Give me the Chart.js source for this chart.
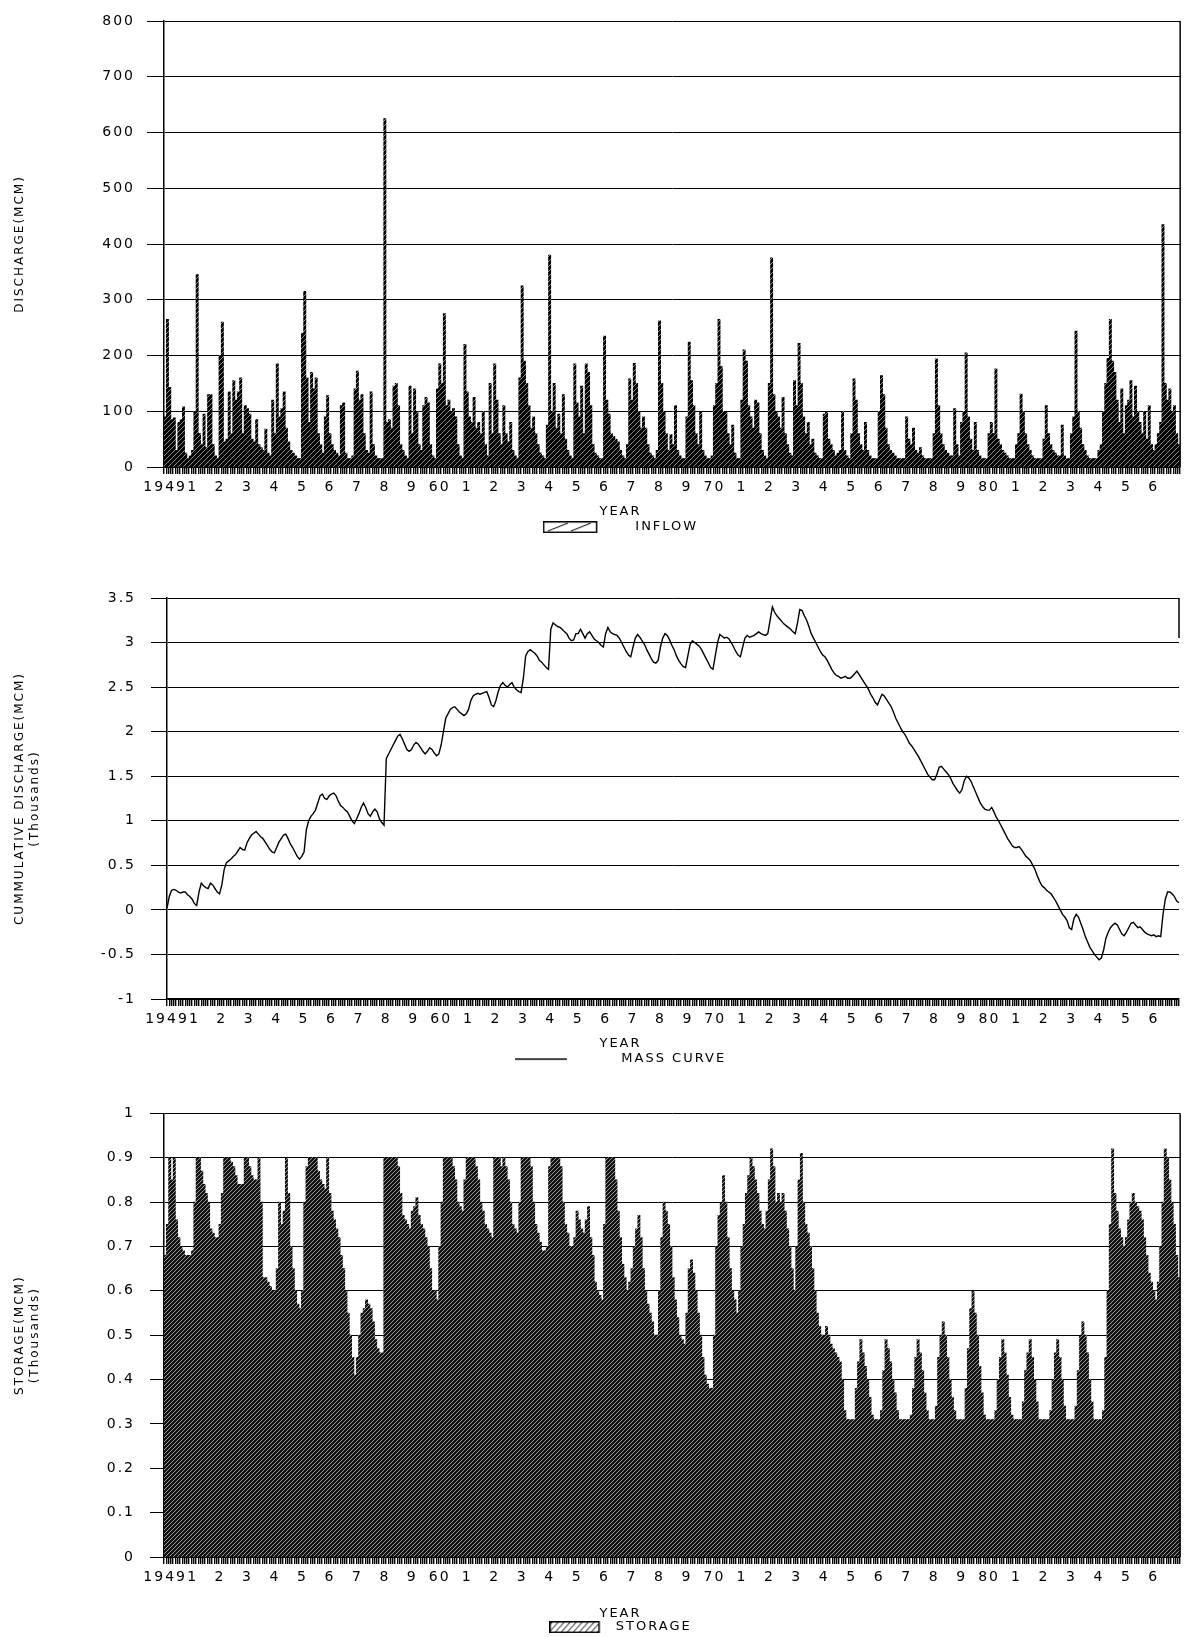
<!DOCTYPE html>
<html>
<head>
<meta charset="utf-8">
<script src="https://cdn.jsdelivr.net/npm/chart.js@4.4.1/dist/chart.umd.min.js"></script>
<style>
  body { margin: 0; background: #fff; width: 1184px; height: 1637px; overflow: hidden; position: relative; }
  .panel { position: absolute; left: 0; }
  .panel canvas { display: block; }
</style>
</head>
<body>
<div class="panel" style="top:0"><canvas id="inflowChart" width="1184" height="550"></canvas></div>
<div class="panel" style="top:550px"><canvas id="massChart" width="1184" height="540"></canvas></div>
<div class="panel" style="top:1090px"><canvas id="storageChart" width="1184" height="560"></canvas></div>
<script>
// year labels under the axis (one per 12 months)
const yearLabels = [
  "1949", "1", "2", "3", "4", "5", "6", "7", "8", "9",
  "60", "1", "2", "3", "4", "5", "6", "7", "8", "9",
  "70", "1", "2", "3", "4", "5", "6", "7", "8", "9",
  "80", "1", "2", "3", "4", "5", "6"
];

// monthly inflow (MCM), one row per year
const inflow = [
  90, 265, 143, 85, 88, 30, 80, 85, 108, 25, 15, 20,
  30, 100, 345, 60, 40, 95, 35, 130, 130, 40, 20, 15,
  200, 260, 45, 50, 135, 60, 155, 120, 135, 160, 60, 110,
  105, 95, 50, 45, 85, 40, 35, 30, 68, 25, 20, 120,
  60, 185, 90, 105, 135, 70, 45, 30, 25, 20, 15, 15,
  240, 315, 160, 80, 170, 140, 160, 60, 40, 25, 90, 128,
  60, 40, 30, 25, 20, 110, 115, 25, 15, 15, 20, 140,
  172, 120, 130, 60, 30, 25, 135, 40, 20, 15, 15, 15,
  625, 80, 85, 70, 145, 150, 110, 40, 30, 20, 15, 145,
  60, 140, 100, 40, 30, 110, 125, 115, 40, 20, 15, 140,
  185, 150, 275, 110, 120, 100, 105, 90, 40, 20, 15, 220,
  135, 90, 80, 125, 70, 80, 60, 100, 40, 20, 150, 60,
  185, 120, 60, 40, 110, 60, 45, 80, 30, 20, 15, 160,
  325, 190, 150, 110, 70, 90, 60, 40, 25, 20, 15, 75,
  380, 100, 150, 70, 95, 60, 130, 50, 30, 20, 15, 185,
  115, 90, 145, 60, 185, 170, 110, 40, 25, 20, 15, 15,
  235, 120, 95, 60, 55, 50, 45, 30, 20, 15, 40, 158,
  120, 186, 150, 100, 70, 90, 70, 40, 25, 20, 15, 30,
  262, 150, 100, 60, 30, 58, 40, 110, 30, 20, 15, 15,
  90, 224, 155, 110, 60, 40, 100, 30, 20, 15, 15, 20,
  110, 150, 265, 180, 100, 100, 60, 40, 75, 25, 15, 15,
  120, 210, 190, 110, 90, 70, 120, 115, 60, 30, 20, 15,
  150, 375, 130, 100, 90, 70, 125, 60, 40, 25, 20, 155,
  110, 222, 150, 90, 60, 80, 40, 50, 25, 20, 15, 15,
  95, 100, 50, 40, 30, 20, 25, 30, 100, 30, 20, 15,
  60, 158, 120, 60, 40, 30, 80, 30, 20, 15, 15, 15,
  100, 164, 130, 70, 40, 30, 25, 20, 15, 15, 15, 15,
  90, 50, 40, 70, 30, 25, 35, 20, 15, 15, 15, 15,
  60, 194, 110, 60, 40, 30, 25, 20, 20, 105, 40, 20,
  80, 100, 205, 90, 50, 30, 80, 30, 20, 15, 15, 15,
  60, 80, 60, 176, 50, 40, 30, 25, 20, 15, 15, 15,
  40, 60, 131, 100, 60, 40, 30, 20, 15, 15, 15, 15,
  50, 110, 60, 40, 30, 25, 20, 20, 75, 20, 15, 15,
  60, 90, 244, 100, 70, 40, 30, 20, 15, 15, 15, 15,
  30, 40, 100, 150, 195, 265, 190, 170, 120, 80, 140, 60,
  110, 120, 155, 90, 145, 100, 80, 60, 100, 50, 110, 40,
  30, 40, 60, 80, 435, 150, 120, 140, 100, 110, 60, 40
];

// cumulative discharge, mass curve (thousand MCM)
const massCurve = [
  0.02, 0.15, 0.22, 0.23, 0.22, 0.2, 0.19, 0.2, 0.2, 0.17, 0.15, 0.12,
  0.07, 0.05, 0.2, 0.3, 0.27, 0.25, 0.24, 0.3, 0.28, 0.24, 0.2, 0.18,
  0.28, 0.45, 0.53, 0.55, 0.57, 0.6, 0.62, 0.66, 0.7, 0.68, 0.67, 0.75,
  0.8, 0.84, 0.86, 0.88, 0.85, 0.82, 0.8, 0.76, 0.72, 0.68, 0.65, 0.64,
  0.7, 0.76, 0.8, 0.84, 0.85, 0.8, 0.74, 0.7, 0.65, 0.6, 0.57, 0.6,
  0.65, 0.9, 1.0, 1.05, 1.08, 1.12, 1.2, 1.28, 1.3, 1.25, 1.24, 1.28,
  1.3, 1.31, 1.28, 1.22, 1.17, 1.15, 1.12, 1.1, 1.05, 1.0, 0.97, 1.02,
  1.08, 1.15, 1.2, 1.15, 1.08, 1.05, 1.1, 1.13, 1.1, 1.02, 0.98, 0.95,
  1.7, 1.75, 1.8, 1.85, 1.9, 1.95, 1.97, 1.92, 1.86, 1.8, 1.78, 1.8,
  1.85, 1.88, 1.86, 1.82, 1.78, 1.75, 1.78, 1.82, 1.8, 1.76, 1.73, 1.75,
  1.85, 2.0, 2.15, 2.2, 2.25, 2.27, 2.28, 2.25, 2.22, 2.2, 2.18, 2.2,
  2.25, 2.35, 2.4, 2.42, 2.43, 2.42, 2.43, 2.44, 2.45, 2.38, 2.3, 2.28,
  2.35, 2.45, 2.52, 2.55, 2.52, 2.5, 2.53, 2.55, 2.5, 2.47, 2.45, 2.44,
  2.6, 2.85, 2.9, 2.92, 2.9, 2.88, 2.85, 2.8, 2.78, 2.75, 2.72, 2.7,
  3.15, 3.22, 3.2, 3.18, 3.17, 3.15, 3.12, 3.1, 3.05, 3.02, 3.03, 3.1,
  3.1, 3.15, 3.1, 3.05, 3.1, 3.12, 3.08, 3.04, 3.02, 3.0, 2.97, 2.95,
  3.1, 3.17, 3.12, 3.1, 3.09, 3.08, 3.05, 3.0, 2.95, 2.9, 2.86, 2.84,
  2.95, 3.05, 3.09, 3.06, 3.02, 2.98, 2.92, 2.87, 2.82, 2.78, 2.77, 2.8,
  2.95, 3.05, 3.1, 3.08, 3.03, 2.97, 2.92, 2.85, 2.8, 2.76, 2.73, 2.72,
  2.85, 2.98, 3.02, 3.0, 2.98, 2.96, 2.92, 2.87, 2.82, 2.77, 2.72, 2.7,
  2.85, 3.0, 3.09, 3.07, 3.05, 3.06, 3.04, 3.0, 2.95, 2.9, 2.86, 2.84,
  2.95, 3.05, 3.08, 3.06, 3.07, 3.08, 3.1, 3.12, 3.1, 3.09, 3.08, 3.1,
  3.25, 3.4, 3.34, 3.3, 3.27, 3.24, 3.21, 3.19, 3.17, 3.15, 3.12, 3.1,
  3.22, 3.37, 3.36, 3.3, 3.25, 3.18, 3.1, 3.05, 3.0, 2.95, 2.9, 2.86,
  2.84, 2.8, 2.75, 2.7, 2.66, 2.63, 2.62, 2.6, 2.61, 2.62, 2.6, 2.6,
  2.62, 2.65, 2.68, 2.64, 2.6, 2.56, 2.52, 2.48, 2.42, 2.38, 2.33, 2.3,
  2.36, 2.42, 2.4, 2.36, 2.32, 2.28, 2.22, 2.15, 2.1, 2.05, 2.0, 1.97,
  1.92, 1.87, 1.84, 1.8, 1.76, 1.72, 1.67, 1.62, 1.57, 1.52, 1.49, 1.46,
  1.46, 1.52, 1.6, 1.61, 1.58, 1.55, 1.52, 1.48, 1.42, 1.38, 1.34, 1.31,
  1.35, 1.45, 1.5, 1.48, 1.44, 1.38, 1.32, 1.26, 1.2, 1.16, 1.13, 1.12,
  1.12, 1.15, 1.1, 1.04, 1.0, 0.95, 0.9, 0.85, 0.8, 0.76, 0.72, 0.7,
  0.7, 0.71, 0.68, 0.64, 0.6, 0.58, 0.55, 0.5, 0.45, 0.38, 0.32, 0.27,
  0.25, 0.22, 0.2, 0.18, 0.14, 0.1, 0.05, 0.0, -0.05, -0.08, -0.12, -0.2,
  -0.22, -0.1, -0.05, -0.08, -0.15, -0.22, -0.3, -0.36, -0.42, -0.46, -0.5, -0.53,
  -0.56, -0.54, -0.45, -0.32, -0.25, -0.2, -0.17, -0.15, -0.17, -0.22, -0.27, -0.29,
  -0.25, -0.2, -0.15, -0.14, -0.17, -0.2, -0.19, -0.22, -0.25, -0.27, -0.28, -0.29,
  -0.28, -0.3, -0.29, -0.3, -0.05, 0.12, 0.2, 0.2, 0.18, 0.15, 0.1, 0.08
];

// reservoir storage (thousand MCM)
const storage = [
  0.68, 0.75, 0.9, 0.85, 0.9, 0.76, 0.72, 0.7, 0.69, 0.68, 0.68, 0.68,
  0.69, 0.8, 0.9, 0.9, 0.87, 0.84, 0.82, 0.8, 0.74, 0.73, 0.72, 0.72,
  0.75, 0.82, 0.9, 0.9, 0.9, 0.89, 0.88, 0.86, 0.84, 0.84, 0.84, 0.9,
  0.9, 0.88, 0.86, 0.85, 0.85, 0.9, 0.8, 0.63, 0.63, 0.62, 0.61, 0.6,
  0.6, 0.65, 0.8, 0.75, 0.78, 0.9, 0.82, 0.7, 0.65, 0.6, 0.57, 0.56,
  0.6, 0.8, 0.88, 0.9, 0.9, 0.9, 0.9, 0.87, 0.85, 0.84, 0.83, 0.9,
  0.82, 0.78, 0.76, 0.74, 0.72, 0.68, 0.65, 0.6, 0.55, 0.5, 0.45, 0.41,
  0.45, 0.5, 0.55, 0.56, 0.58, 0.57, 0.56, 0.53, 0.49, 0.47, 0.46, 0.46,
  0.9, 0.9, 0.9, 0.9, 0.9, 0.9, 0.88, 0.82, 0.77, 0.76, 0.75, 0.74,
  0.78, 0.79, 0.81, 0.77, 0.75, 0.74, 0.72, 0.7, 0.65, 0.6, 0.6, 0.58,
  0.7, 0.8, 0.9, 0.9, 0.9, 0.9, 0.88, 0.85, 0.8, 0.79, 0.78, 0.85,
  0.9, 0.9, 0.9, 0.9, 0.88, 0.85, 0.8, 0.78, 0.75, 0.74, 0.73, 0.72,
  0.9, 0.9, 0.9, 0.88, 0.9, 0.88, 0.85, 0.8, 0.75, 0.74, 0.73, 0.8,
  0.9, 0.9, 0.9, 0.9, 0.88, 0.8, 0.75, 0.73, 0.71, 0.69, 0.69, 0.7,
  0.88, 0.9, 0.9, 0.9, 0.9, 0.88, 0.8, 0.75, 0.73, 0.7, 0.7, 0.72,
  0.78, 0.76, 0.74, 0.73, 0.76, 0.79, 0.72, 0.68, 0.62, 0.6, 0.59, 0.58,
  0.75, 0.9, 0.9, 0.9, 0.9, 0.85, 0.78, 0.72, 0.66, 0.63, 0.6, 0.62,
  0.65, 0.7, 0.74, 0.77, 0.72, 0.65, 0.6, 0.57, 0.55, 0.53, 0.5, 0.5,
  0.6, 0.72, 0.8, 0.78, 0.75, 0.7, 0.63, 0.58, 0.54, 0.5, 0.49, 0.48,
  0.55, 0.65, 0.67, 0.64, 0.6, 0.55, 0.5, 0.45, 0.41, 0.39, 0.38, 0.38,
  0.5, 0.7, 0.77, 0.8, 0.86, 0.8, 0.72, 0.65, 0.6, 0.58, 0.55, 0.6,
  0.7, 0.75, 0.82, 0.86, 0.9, 0.88, 0.85, 0.82, 0.78, 0.75, 0.74, 0.78,
  0.85, 0.92, 0.88, 0.8, 0.82, 0.8, 0.82, 0.78, 0.74, 0.7, 0.65, 0.6,
  0.7, 0.85, 0.91, 0.8, 0.75, 0.73, 0.7, 0.65, 0.6, 0.55, 0.52, 0.5,
  0.5, 0.52, 0.5, 0.48, 0.47, 0.46, 0.45, 0.44, 0.4, 0.33, 0.31, 0.31,
  0.31, 0.31, 0.38, 0.44, 0.49, 0.46, 0.43, 0.4, 0.36, 0.32, 0.31, 0.31,
  0.31, 0.33, 0.42, 0.49, 0.47, 0.44, 0.4, 0.37, 0.33, 0.31, 0.31, 0.31,
  0.31, 0.31, 0.32, 0.38, 0.45, 0.49, 0.46, 0.42, 0.37, 0.33, 0.31, 0.31,
  0.31, 0.34, 0.45, 0.5, 0.53, 0.5, 0.45, 0.4, 0.36, 0.33, 0.31, 0.31,
  0.31, 0.31, 0.38, 0.47, 0.56, 0.6, 0.55, 0.5, 0.43, 0.37, 0.32, 0.31,
  0.31, 0.31, 0.31, 0.33, 0.4, 0.45, 0.49, 0.46, 0.41, 0.36, 0.32, 0.31,
  0.31, 0.31, 0.31, 0.35, 0.42, 0.46, 0.49, 0.45, 0.4, 0.35, 0.31, 0.31,
  0.31, 0.31, 0.31, 0.33, 0.4, 0.46, 0.49, 0.45, 0.4, 0.34, 0.31, 0.31,
  0.31, 0.31, 0.34, 0.42, 0.5, 0.53, 0.5, 0.46, 0.4, 0.35, 0.31, 0.31,
  0.31, 0.31, 0.33, 0.45, 0.6, 0.75, 0.92, 0.82, 0.78, 0.74, 0.72, 0.7,
  0.72, 0.76, 0.8, 0.82, 0.8, 0.79, 0.78, 0.76, 0.72, 0.68, 0.64, 0.62,
  0.6, 0.58, 0.62, 0.7, 0.8, 0.92, 0.9, 0.85, 0.8, 0.75, 0.68, 0.63
];

// one category per month
const months = [];
yearLabels.forEach((y, i) => {
  for (let m = 1; m <= 12; m++) months.push(i + "-" + m);
});

Chart.defaults.font.family = "'DejaVu Sans', sans-serif";
Chart.defaults.color = "#000";

// wide plotter-style lettering
const spacedText = {
  id: "spacedText",
  beforeUpdate(chart) { chart.ctx.letterSpacing = "2px"; },
  beforeDraw(chart) { chart.ctx.letterSpacing = "2px"; },
};

// right edge of the plot frame
const rightFrame = {
  id: "rightFrame",
  defaults: { extent: 1 },
  afterDraw(chart, args, opts) {
    const { ctx, chartArea } = chart;
    ctx.save();
    ctx.strokeStyle = "#000";
    ctx.lineWidth = 1.5;
    ctx.beginPath();
    ctx.moveTo(chartArea.right, chartArea.top);
    ctx.lineTo(chartArea.right, chartArea.top + (chartArea.bottom - chartArea.top) * opts.extent);
    ctx.stroke();
    ctx.restore();
  },
};

Chart.register(spacedText, rightFrame);

// diagonal hatch used to fill the bars
function hatch(bg, fg, size) {
  const c = document.createElement("canvas");
  c.width = c.height = size;
  const g = c.getContext("2d");
  g.fillStyle = bg;
  g.fillRect(0, 0, size, size);
  g.strokeStyle = fg;
  g.lineWidth = 1;
  g.beginPath();
  g.moveTo(0, size); g.lineTo(size, 0);
  g.moveTo(-1, 1); g.lineTo(1, -1);
  g.moveTo(size - 1, size + 1); g.lineTo(size + 1, size - 1);
  g.stroke();
  return g.createPattern(c, "repeat");
}

// legend keys (key drawn on the left, blank gap before the text)
function legendKey(w, draw) {
  const c = document.createElement("canvas");
  c.width = w;
  c.height = 12;
  const g = c.getContext("2d");
  g.strokeStyle = "#000";
  draw(g);
  return c;
}

const inflowKey = legendKey(86, (g) => {
  g.lineWidth = 1.5;
  g.strokeRect(0.75, 0.75, 53, 10.5);
  g.lineWidth = 1;
  g.beginPath();
  g.moveTo(5, 10); g.lineTo(25, 2);
  g.moveTo(28, 10); g.lineTo(48, 2);
  g.stroke();
});

const massKey = legendKey(100, (g) => {
  g.lineWidth = 1.5;
  g.beginPath();
  g.moveTo(0, 6); g.lineTo(52, 6);
  g.stroke();
});

const storageKey = legendKey(60, (g) => {
  g.save();
  g.beginPath();
  g.rect(0, 0, 50, 12);
  g.clip();
  g.lineWidth = 1;
  g.beginPath();
  for (let x = -6; x < 50; x += 6) {
    g.moveTo(x, 11); g.lineTo(x + 9, 1);
  }
  g.stroke();
  g.restore();
  g.lineWidth = 1.5;
  g.strokeRect(0.75, 0.75, 49, 10.5);
});

// tick values without trailing zeros: 3, 2.5, 1, 0.1
const plainNumber = (value) => String(Number(value.toFixed(2)));

function xAxis() {
  return {
    ticks: {
      autoSkip: false,
      maxRotation: 0,
      minRotation: 0,
      padding: 5,
      font: { size: 14 },
      callback: (value, index) => (index % 12 === 0 ? yearLabels[index / 12] : ""),
    },
    grid: { drawOnChartArea: false, tickLength: 7, color: "#000", lineWidth: 1.4 },
    border: { color: "#000", width: 1.2 },
    afterFit: (scale) => { scale.height = 30; },
  };
}

function yAxis(min, max, step, title, width, tickLength, pad) {
  return {
    min: min,
    max: max,
    ticks: { stepSize: step, padding: pad, font: { size: 14 }, callback: plainNumber },
    grid: { color: "#000", lineWidth: 1, tickLength: tickLength },
    border: { color: "#000", width: 1.5 },
    title: { display: true, text: title, font: { size: 12 }, padding: { top: -47, bottom: 0 } },
    afterFit: (scale) => { scale.width = width; },
  };
}

function legend(key, width, titleTop, titleBottom) {
  return {
    position: "bottom",
    title: { display: true, text: "YEAR", font: { size: 13 }, padding: { top: titleTop, bottom: titleBottom } },
    labels: {
      usePointStyle: true,
      pointStyle: key,
      pointStyleWidth: width,
      padding: 2,
      font: { size: 13 },
    },
  };
}

// inflow
new Chart(document.getElementById("inflowChart"), {
  type: "bar",
  data: {
    labels: months,
    datasets: [{
      label: "INFLOW",
      data: inflow,
      backgroundColor: hatch("#000", "#8a8a8a", 5),
      borderWidth: 0,
      barPercentage: 1,
      categoryPercentage: 1,
    }],
  },
  options: {
    responsive: false,
    animation: false,
    layout: { padding: { left: 60, top: 21, right: 3, bottom: 6.4 } },
    scales: {
      x: xAxis(),
      y: yAxis(0, 800, 100, "DISCHARGE(MCM)", 104, 17, 12),
    },
    plugins: {
      legend: legend(inflowKey, 86, 8, -2),
      tooltip: { enabled: false },
    },
  },
});

// mass curve
new Chart(document.getElementById("massChart"), {
  type: "line",
  data: {
    labels: months,
    datasets: [{
      label: "MASS CURVE",
      data: massCurve,
      borderColor: "#000",
      borderWidth: 1.4,
      pointRadius: 0,
      tension: 0,
      fill: false,
    }],
  },
  options: {
    responsive: false,
    animation: false,
    layout: { padding: { left: 60, top: 48, right: 3, bottom: 14.4 } },
    scales: {
      x: xAxis(),
      y: yAxis(-1, 3.5, 0.5, ["CUMMULATIVE DISCHARGE(MCM)", "(Thousands)"], 107, 16, 15),
    },
    plugins: {
      legend: legend(massKey, 100, 8, -2),
      tooltip: { enabled: false },
      rightFrame: { extent: 0.1 },
    },
  },
});

// storage
new Chart(document.getElementById("storageChart"), {
  type: "bar",
  data: {
    labels: months,
    datasets: [{
      label: "STORAGE",
      data: storage,
      backgroundColor: hatch("#111", "#9a9a9a", 4),
      borderWidth: 0,
      barPercentage: 1,
      categoryPercentage: 1,
    }],
  },
  options: {
    responsive: false,
    animation: false,
    layout: { padding: { left: 60, top: 21, right: 3, bottom: 6.4 } },
    scales: {
      x: xAxis(),
      y: yAxis(0, 1, 0.1, ["STORAGE(MCM)", "(Thousands)"], 104, 14, 15),
    },
    plugins: {
      legend: legend(storageKey, 60, 20, -4),
      tooltip: { enabled: false },
    },
  },
});
</script>
</body>
</html>
